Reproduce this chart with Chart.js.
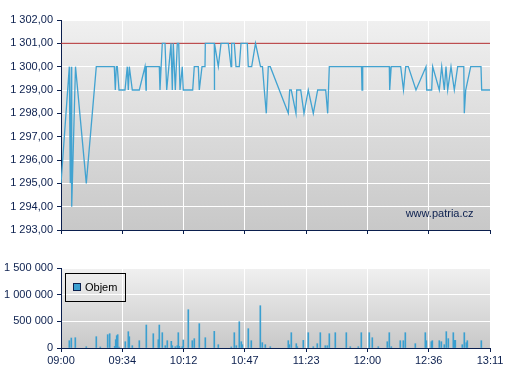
<!DOCTYPE html>
<html><head><meta charset="utf-8">
<script src="https://cdn.jsdelivr.net/npm/chart.js@4/dist/chart.umd.min.js"></script>
<style>
html,body{margin:0;padding:0;background:#fff;}
#wrap{position:relative;width:507px;height:380px;overflow:hidden;}
canvas{position:absolute;left:0;}
</style></head><body>
<div id="wrap">
<canvas id="price" width="507" height="245" style="top:0"></canvas>
<canvas id="vol" width="507" height="135" style="top:245px"></canvas>
</div>
<script>
// ---- data ----
const tickLabels = ["09:00","09:34","10:12","10:47","11:23","12:00","12:36","13:11"];
const referencePrice = 1301;
const priceTimes = [
"09:00:00","09:04:52","09:05:26","09:06:02","09:06:16","09:08:29","09:14:48","09:20:39","09:31:11","09:31:46",
"09:32:21","09:32:56","09:33:56","09:37:27","09:38:47","09:39:23","09:39:58","09:41:43","09:45:49","09:49:09",
"09:49:44","09:49:55","09:57:31","09:57:55","09:59:16","10:00:51","10:01:51","10:04:22","10:05:07","10:05:42",
"10:06:53","10:08:03","10:08:52","10:09:37","10:10:58","10:11:33","10:17:03","10:17:59","10:20:20","10:20:55",
"10:22:30","10:24:15","10:24:26","10:29:42","10:29:45","10:29:52","10:32:02","10:33:37","10:37:53","10:39:28",
"10:39:52","10:41:24","10:42:23","10:44:19","10:45:19","10:49:00","10:49:35","10:51:34","10:53:48","10:56:43",
"10:57:53","10:58:57","11:00:07","11:01:17","11:02:27","11:12:59","11:13:48","11:14:44","11:17:29","11:17:54",
"11:20:15","11:22:10","11:24:41","11:27:37","11:30:11","11:34:52","11:36:02","11:36:59","11:55:49","11:56:07",
"11:56:31","12:12:05","12:12:19","12:13:12","12:18:45","12:20:23","12:21:41","12:23:12","12:27:42","12:33:33",
"12:33:58","12:36:53","12:37:28","12:41:20","12:42:45","12:44:16","12:45:15","12:46:15","12:48:11","12:50:07",
"12:52:06","12:55:40","12:55:58","12:56:47","12:59:43","13:05:44","13:06:08","13:11:00"];
const priceValues = [
1295,1300,1295,1300,1294,1300,1295,1300,1300,1299,
1300,1300,1299,1299,1300,1299,1300,1299,1299,1300,
1299,1300,1300,1299,1301,1301,1299,1301,1299,1301,
1299,1301,1301,1299,1300,1299,1299,1300,1300,1299,
1300,1300,1301,1301,1299,1301,1300,1301,1301,1300,
1301,1301,1300,1300,1301,1301,1300,1300,1301,1300,
1300,1299,1298,1300,1300,1298,1299,1299,1298,1299,
1299,1298,1299,1298,1299,1299,1298,1300,1300,1299,
1300,1300,1299,1300,1300,1299,1300,1300,1299,1300,
1299,1299,1300,1299,1300,1299,1300,1299,1300,1299,
1300,1300,1298,1299,1300,1300,1299,1299];
const volumeTimes = [
"09:04:52","09:06:02","09:08:22","09:14:48","09:20:39","09:22:59","09:27:19","09:28:29","09:31:25","09:32:00",
"09:32:35","09:33:10","09:33:56","09:37:37","09:39:23","09:39:58","09:41:43","09:45:49","09:49:55","09:54:00",
"09:56:56","09:57:31","09:59:16","10:01:01","10:02:11","10:04:32","10:05:07","10:06:52","10:08:02","10:08:38",
"10:09:13","10:10:58","10:11:33","10:14:29","10:16:49","10:17:59","10:20:55","10:24:26","10:29:41","10:32:02",
"10:39:38","10:41:24","10:42:34","10:44:19","10:45:29","10:46:05","10:49:35","10:51:20","10:56:37","10:57:47",
"10:59:32","11:02:27","11:12:59","11:13:35","11:14:45","11:17:40","11:18:15","11:21:46","11:24:41","11:27:37",
"11:29:57","11:31:43","11:34:38","11:35:49","11:36:59","11:40:29","11:46:56","11:49:16","11:53:57","11:55:42",
"12:00:23","12:02:08","12:05:39","12:10:55","12:12:05","12:13:15","12:18:31","12:20:17","12:21:27","12:27:18",
"12:33:09","12:33:44","12:36:40","12:37:15","12:41:20","12:42:31","12:44:16","12:45:26","12:46:36","12:49:32",
"12:50:07","12:50:42","12:54:47","12:55:58","12:57:08","12:57:43","13:05:55"];
const volumeValues = [
137000,187000,193000,24000,212000,19000,250000,268000,30000,156000,
231000,250000,19000,118000,306000,212000,43000,137000,431000,268000,
156000,431000,287000,43000,137000,125000,43000,24000,43000,287000,
30000,24000,150000,718000,137000,175000,456000,193000,312000,62000,
19000,287000,43000,493000,118000,62000,362000,137000,793000,100000,
62000,24000,137000,62000,287000,81000,24000,143000,287000,24000,
81000,287000,43000,43000,268000,287000,287000,24000,24000,287000,
287000,193000,24000,118000,287000,24000,137000,137000,287000,81000,
287000,137000,118000,137000,137000,118000,62000,306000,175000,287000,
143000,143000,62000,287000,100000,137000,137000];

// ---- helpers ----
function toMin(t){ const p=t.split(':').map(Number); return (p[0]*60+p[1]+(p[2]||0)/60); }
const T0 = toMin(tickLabels[0]);
const SPAN = toMin(tickLabels[tickLabels.length-1]) - T0;
const NT = tickLabels.length - 1;
function group(n){ return String(Math.round(n)).replace(/\B(?=(\d{3})+(?!\d))/g,' '); }
const NAVY = '#0b1f4e';
const FONT = {family:'"Liberation Sans", Arial, sans-serif', size:11};

const bgPlugin = {
  id:'bg',
  beforeDraw(chart){
    const a=chart.chartArea, ctx=chart.ctx;
    const g=ctx.createLinearGradient(0,a.top,0,a.bottom);
    g.addColorStop(0,'#f0f0f0'); g.addColorStop(1,'#c8c8c8');
    ctx.save(); ctx.fillStyle=g; ctx.fillRect(a.left,a.top,a.right-a.left,a.bottom-a.top); ctx.restore();
  }
};
function xScale(showLabels, height){
  return {
    type:'linear', min:0, max:SPAN, offset:false,
    afterBuildTicks(s){ s.ticks = tickLabels.map((l,i)=>({value:i*SPAN/NT})); },
    afterFit(s){ s.height = height; },
    ticks:{ display:showLabels, autoSkip:false, maxRotation:0, padding:2, color:NAVY, font:FONT,
      callback:(v,i)=>tickLabels[i] },
    grid:{ offset:false, color:'#ffffff', lineWidth:1, tickLength:4, tickColor:NAVY },
    border:{ color:NAVY, width:1 }
  };
}
function yGrid(){ return { color:'#ffffff', lineWidth:1, tickLength:4, tickColor:NAVY }; }

// ---- price chart ----
new Chart(document.getElementById('price'), {
  type:'line',
  data:{ datasets:[
    { label:'Cena', data: priceTimes.map((t,i)=>({x:toMin(t)-T0, y:priceValues[i]})),
      borderColor:'#42a3d1', borderWidth:1.3, pointRadius:0, tension:0, fill:false },
    { label:'Ref', data: [{x:0,y:referencePrice},{x:SPAN,y:referencePrice}],
      borderColor:'#b02a2c', borderWidth:1, pointRadius:0, tension:0, fill:false }
  ]},
  options:{
    responsive:false, animation:false, devicePixelRatio:1,
    layout:{ padding:{ top:20, right:17, left:0, bottom:0 } },
    plugins:{ legend:{display:false}, tooltip:{enabled:false} },
    scales:{
      x: xScale(false, 15),
      y:{ min:1293, max:1302,
        afterFit(s){ s.width = 61; },
        ticks:{ stepSize:1, padding:4, color:NAVY, font:FONT,
          callback:v=>group(v)+',00' },
        grid: yGrid(), border:{ color:NAVY, width:1 } }
    }
  },
  plugins:[bgPlugin, {
    id:'wm',
    afterDraw(chart){
      const a=chart.chartArea, ctx=chart.ctx;
      ctx.save(); ctx.font='11px "Liberation Sans", Arial, sans-serif'; ctx.fillStyle=NAVY;
      ctx.textAlign='right'; ctx.textBaseline='alphabetic';
      ctx.fillText('www.patria.cz', a.right-16.5, a.bottom-12.7); ctx.restore();
    }
  }]
});

// ---- volume chart ----
new Chart(document.getElementById('vol'), {
  type:'bar',
  data:{ datasets:[
    { label:'Objem', data: volumeTimes.map((t,i)=>({x:toMin(t)-T0, y:volumeValues[i]})),
      backgroundColor:'#3a9fd0', borderWidth:0, barThickness:1, grouped:false }
  ]},
  options:{
    responsive:false, animation:false, devicePixelRatio:1,
    layout:{ padding:{ top:23, right:17, left:0, bottom:0 } },
    plugins:{ legend:{display:false}, tooltip:{enabled:false} },
    scales:{
      x: xScale(true, 32),
      y:{ min:0, max:1500000,
        afterFit(s){ s.width = 61; },
        ticks:{ stepSize:500000, padding:4, color:NAVY, font:FONT, callback:v=>group(v) },
        grid: yGrid(), border:{ color:NAVY, width:1 } }
    }
  },
  plugins:[bgPlugin, {
    id:'lg',
    afterDraw(chart){
      const a=chart.chartArea, ctx=chart.ctx, ds=chart.data.datasets[0];
      const x=Math.round(a.left+4)+0.5, y=Math.round(a.top+5)+0.5;
      ctx.save();
      ctx.strokeStyle='#000'; ctx.lineWidth=1; ctx.strokeRect(x,y,60,28);
      ctx.fillStyle=ds.backgroundColor; ctx.fillRect(x+8,y+10,7,7);
      ctx.strokeStyle=NAVY; ctx.strokeRect(x+8,y+10,7,7);
      ctx.font='11px "Liberation Sans", Arial, sans-serif'; ctx.fillStyle='#000';
      ctx.textBaseline='middle'; ctx.textAlign='left';
      ctx.fillText(ds.label, x+19.5, y+14);
      ctx.restore();
    }
  }]
});
</script>
</body></html>
